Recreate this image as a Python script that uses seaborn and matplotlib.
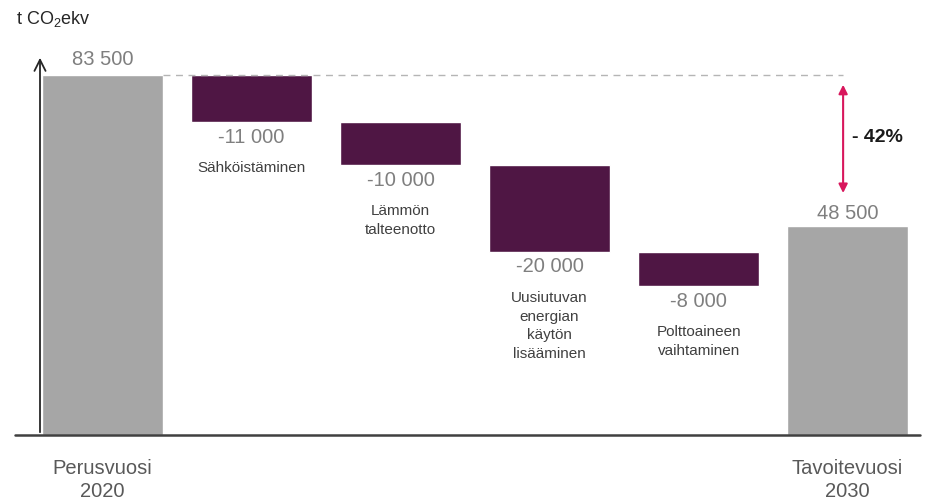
import numpy as np
import pandas as pd
import matplotlib.pyplot as plt
import seaborn as sns

# Data
categories = ["Perusvuosi\n2020", "Sähköistäminen", "Lämmön\ntalteenotto",
              "Uusiutuvan\nenergian\nkäytön\nlisääminen", "Polttoaineen\nvaihtaminen",
              "Tavoitevuosi\n2030"]
base_value = 83500
changes = [-11000, -10000, -20000, -8000]
target_value = 48500
value_labels = ["83 500", "-11 000", "-10 000", "-20 000", "-8 000", "48 500"]
reduction_label = "- 42%"
y_label = "t CO$_\\mathregular{2}$ekv"

GREY = "#a6a6a6"
PURPLE = "#4f1644"
ARROW = "#d8175c"

sns.set_style("white")
plt.rcParams['font.family'] = ['Liberation Sans', 'DejaVu Sans']

fig = plt.figure(figsize=(9.26, 5.03), dpi=100)
ax = fig.add_axes([40 / 926, 68 / 503, 880 / 926, 380 / 503])

# totals (grey)
totals = pd.DataFrame({"cat": [categories[0], categories[-1]],
                       "value": [base_value, target_value]})
sns.barplot(data=totals, x="cat", y="value", order=categories, color=GREY,
            saturation=1, width=0.81, ax=ax, zorder=2)

# floating reductions
tops = base_value + np.concatenate([[0], np.cumsum(changes)[:-1]])
bottoms = tops + np.array(changes)
pos = np.arange(1, len(changes) + 1)
ax.bar(pos, -np.array(changes), bottom=bottoms, width=0.81, color=PURPLE, zorder=2)

ax.set_xlim(-0.42, 5.486)
ax.set_ylim(0, 88100)
ax.set_xticks([])
ax.set_yticks([])
ax.set_xlabel("")
ax.set_ylabel("")
for s in ax.spines.values():
    s.set_visible(False)

# axes: arrow on the left, line at the bottom
ax.annotate("", xy=(0, 1.0), xytext=(0, 0), xycoords="axes fraction",
            arrowprops=dict(arrowstyle="->", lw=1.3, color="#262626", mutation_scale=20))
ax.plot([-0.028, 1.0], [0, 0], transform=ax.transAxes, color="#404040",
        lw=1.8, clip_on=False, zorder=3)

# dashed reference line
ax.plot([0.405, 4.97], [base_value, base_value], ls=(0, (5, 4)), color="#b5b5b5",
        lw=1, zorder=3)

# reduction arrow
ax.annotate("", xy=(4.97, target_value + 7600), xytext=(4.97, base_value - 2300),
            arrowprops=dict(arrowstyle="<|-|>", color=ARROW, lw=1.5, mutation_scale=13,
                            shrinkA=0, shrinkB=0))
ax.text(5.03, (base_value + target_value) / 2 + 2900, reduction_label, fontsize=14,
        fontweight="bold", color="#1a1a1a", va="center", ha="left")

# value labels
num_kw = dict(fontsize=14.5, color="#7f7f7f", ha="center", textcoords="offset points")
ax.annotate(value_labels[0], (0, base_value), xytext=(0, 11), va="center", **num_kw)
ax.annotate(value_labels[-1], (5, target_value), xytext=(0, 9), va="center", **num_kw)
for i, p in enumerate(pos):
    ax.annotate(value_labels[i + 1], (p, bottoms[i]), xytext=(0, -11), va="center", **num_kw)
    ax.annotate(categories[p], (p, bottoms[i]), xytext=(0, -28), va="top", ha="center",
                textcoords="offset points", fontsize=11, color="#404040",
                linespacing=1.45)

# bottom labels
for p in [0, 5]:
    ax.text(p, -0.064, categories[p], transform=ax.get_xaxis_transform(), ha="center",
            va="top", fontsize=14.5, color="#595959", linespacing=1.25)

fig.text(16 / 926, 1 - 19 / 503, y_label, fontsize=13, color="#262626",
         ha="left", va="center")

fig.savefig("out.png", dpi=100)
